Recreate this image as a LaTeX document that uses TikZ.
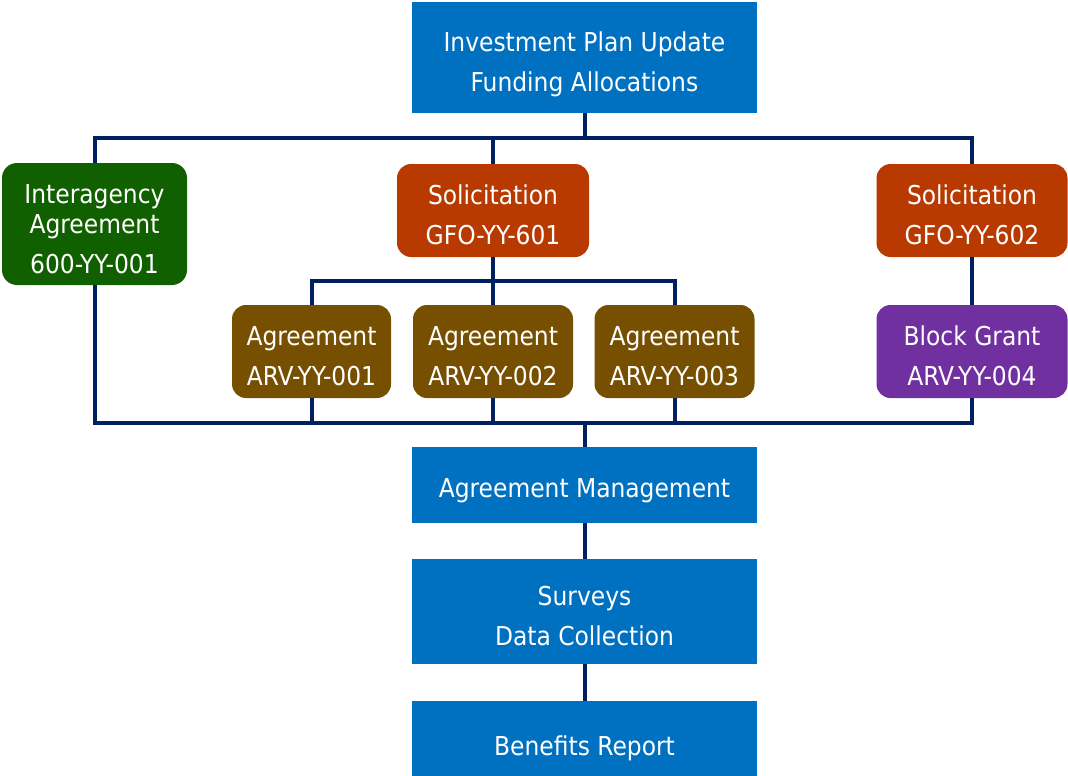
\documentclass[tikz,border=0pt]{standalone}
\usepackage{fontspec}
\setmainfont{DejaVu Sans Condensed}
\definecolor{cblue}{HTML}{0070C0}
\definecolor{cred}{HTML}{B83A00}
\definecolor{cgreen}{HTML}{116000}
\definecolor{cbrown}{HTML}{765000}
\definecolor{cpurple}{HTML}{7030A0}
\definecolor{cnavy}{HTML}{002060}
\newcommand\txtTop{\rule{0pt}{32pt}}
\newcommand\txtTopM{\rule{0pt}{36pt}}
\newcommand\txtBot{\rule[-8pt]{0pt}{8pt}}
\newcommand\twoLines[2]{\txtTopM#1\\#2\txtBot}
\begin{document}
\begin{tikzpicture}[x=1pt,y=-1pt,
  box/.style={text=white,align=center,inner sep=0pt,font=\fontsize{26}{40}\selectfont},
  sqbox/.style={box,fill=cblue,minimum width=345pt},
  rbox/.style={box,rounded corners=14pt,minimum height=93pt},
  conn/.style={draw=cnavy,line width=4pt}]
\useasboundingbox (0,0) rectangle (1068,776);
\node[sqbox,minimum height=110pt] (top) at (584.5,57.5) {\twoLines{Investment Plan Update}{Funding Allocations}};
\node[box,rounded corners=15pt,fill=cgreen,minimum width=185pt,minimum height=122pt] (green) at (94.5,224) {\txtTopM Interagency\\[-10pt]Agreement\\600-YY-001\txtBot};
\node[rbox,fill=cred,minimum width=192pt] (sol1) at (493,210.5) {\twoLines{Solicitation}{GFO-YY-601}};
\node[rbox,fill=cred,minimum width=191pt] (sol2) at (972,210.5) {\twoLines{Solicitation}{GFO-YY-602}};
\node[rbox,fill=cbrown,minimum width=159pt] (ag1) at (311.5,351.5) {\twoLines{Agreement}{ARV-YY-001}};
\node[rbox,fill=cbrown,minimum width=160pt] (ag2) at (493,351.5) {\twoLines{Agreement}{ARV-YY-002}};
\node[rbox,fill=cbrown,minimum width=160pt] (ag3) at (674.5,351.5) {\twoLines{Agreement}{ARV-YY-003}};
\node[rbox,fill=cpurple,minimum width=191pt] (block) at (972,351.5) {\twoLines{Block Grant}{ARV-YY-004}};
\node[sqbox,minimum height=76pt] (mgmt) at (584.5,485) {\txtTop Agreement Management\txtBot};
\node[sqbox,minimum height=105pt] (surv) at (584.5,611.5) {\twoLines{Surveys}{Data Collection}};
\node[sqbox,minimum height=84pt] (ben) at (584.5,743) {\txtTop Benefits Report\txtBot};
\coordinate (busT) at (584.5,138);
\coordinate (busM) at (493,281);
\coordinate (busB) at (584.5,423);
% top bus
\draw[conn] (top.south) -- (busT);
\draw[conn] (green.north) -- (green.north |- busT) -- (sol2.north |- busT) -- (sol2.north);
\draw[conn] (sol1.north) -- (sol1.north |- busT);
% solicitation 601 bus
\draw[conn] (sol1.south) -- (busM);
\draw[conn] (ag1.north) -- (ag1.north |- busM) -- (ag3.north |- busM) -- (ag3.north);
\draw[conn] (ag2.north) -- (ag2.north |- busM);
\draw[conn] (sol2.south) -- (block.north);
% bottom bus
\draw[conn] (green.south) -- (green.south |- busB) -- (block.south |- busB) -- (block.south);
\draw[conn] (ag1.south) -- (ag1.south |- busB);
\draw[conn] (ag2.south) -- (ag2.south |- busB);
\draw[conn] (ag3.south) -- (ag3.south |- busB);
\draw[conn] (busB) -- (mgmt.north);
\draw[conn] (mgmt.south) -- (surv.north);
\draw[conn] (surv.south) -- (ben.north);
\end{tikzpicture}
\end{document}
